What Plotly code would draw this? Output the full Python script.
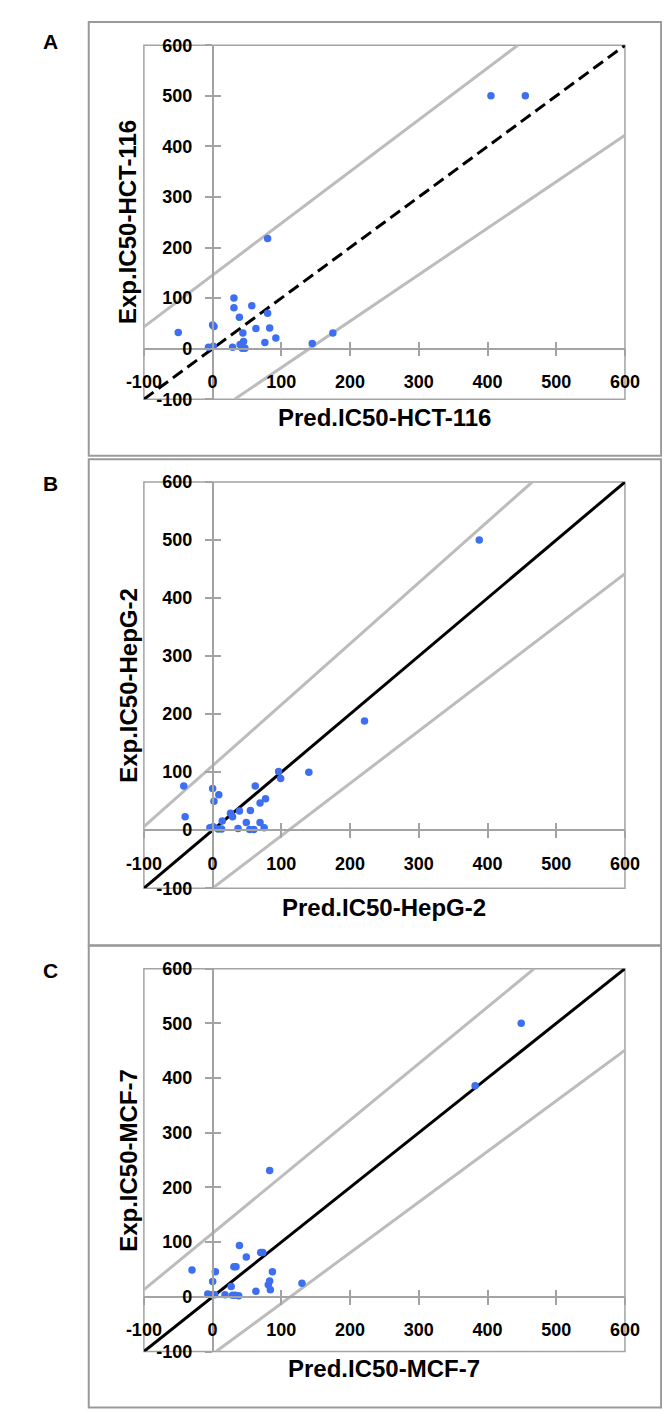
import plotly.graph_objects as go

W, H = 670, 1411

# ---------------- data ----------------
ticks = [-100, 0, 100, 200, 300, 400, 500, 600]
tick_labels = ["-100", "0", "100", "200", "300", "400", "500", "600"]
axis_range = [-100, 600]

# Panel A : HCT-116
a_pred = [-50, 0, 2, -6, 1, 31, 31, 57, 39, 80, 63, 83, 44, 92, 76, 29, 40, 45, 43, 47, 145, 175, 80, 405, 455]
a_exp = [32, 47, 44, 3, 5, 100, 81, 85, 62, 70, 40, 41, 31, 21, 12, 3, 8, 14, 1, 1, 10, 31, 218, 500, 500]
a_upper_x = [-100, 444]
a_upper_y = [43, 600]
a_lower_x = [32, 600]
a_lower_y = [-100, 422]

# Panel B : HepG-2
b_pred = [-42, -40, 0, 9, 2, -4, 1, 8, 13, 14, 26, 29, 39, 37, 49, 55, 54, 60, 62, 69, 69, 77, 75, 96, 99, 140, 221, 388]
b_exp = [76, 23, 72, 61, 50, 4, 6, 2, 2, 16, 29, 23, 33, 3, 13, 34, 1, 1, 76, 13, 47, 54, 4, 101, 89, 100, 188, 500]
b_upper_x = [-100, 465]
b_upper_y = [6, 600]
b_lower_x = [0, 600]
b_lower_y = [-100, 442]

# Panel C : MCF-7
c_pred = [-30, 4, 0, -7, -1, 3, 18, 27, 29, 33, 38, 31, 34, 39, 49, 70, 73, 63, 81, 83, 84, 87, 130, 83, 382, 449]
c_exp = [49, 46, 28, 5, 4, 4, 4, 19, 3, 3, 2, 55, 55, 94, 73, 81, 81, 10, 22, 29, 13, 46, 25, 231, 386, 500]
c_upper_x = [-100, 468]
c_upper_y = [13, 600]
c_lower_x = [5, 600]
c_lower_y = [-100, 451]

identity_x = [-100, 600]
identity_y = [-100, 600]

letters = ["A", "B", "C"]
x_titles = ["Pred.IC50-HCT-116", "Pred.IC50-HepG-2", "Pred.IC50-MCF-7"]
y_titles = ["Exp.IC50-HCT-116", "Exp.IC50-HepG-2", "Exp.IC50-MCF-7"]

# ---------------- layout geometry (pixels) ----------------
plot_left, plot_right = 124, 630
panels = [
    dict(pred=a_pred, exp=a_exp, ux=a_upper_x, uy=a_upper_y, lx=a_lower_x, ly=a_lower_y,
         dash="12px,6px", top=27.7, bottom=386.7, box=(4, 444), letter_y=24, xtitle_y=405),
    dict(pred=b_pred, exp=b_exp, ux=b_upper_x, uy=b_upper_y, lx=b_lower_x, ly=b_lower_y,
         dash="solid", top=470.7, bottom=882.7, box=(447.7, 940.5), letter_y=472, xtitle_y=902),
    dict(pred=c_pred, exp=c_exp, ux=c_upper_x, uy=c_upper_y, lx=c_lower_x, ly=c_lower_y,
         dash="solid", top=964.3, bottom=1352.7, box=(941, 1409.5), letter_y=966, xtitle_y=1370),
]

FONT = "Arial, Liberation Sans, sans-serif"
GRAY_AX = "#a3a3a3"
GRAY_LINE = "#bcbcbc"
BLUE = "#3d6ff0"
TICK_SIZE = 18
TITLE_SIZE = 24


def px_x(p):
    return p / W


def px_y(p):
    return 1 - p / H


fig = go.Figure()
layout = dict(
    width=W, height=H, margin=dict(l=0, r=0, t=0, b=0),
    paper_bgcolor="white", plot_bgcolor="rgba(0,0,0,0)",
    showlegend=False, font=dict(family=FONT, color="black"),
)
shapes = []
annotations = []

xd = [px_x(plot_left), px_x(plot_right)]
frac0 = (0 - axis_range[0]) / (axis_range[1] - axis_range[0])

for i, p in enumerate(panels):
    k = i + 1
    ko = k + 3  # overlay axes for the inner half of the cross ticks
    sx = "" if k == 1 else str(k)
    yd = [px_y(p["bottom"]), px_y(p["top"])]
    ypos0 = yd[0] + frac0 * (yd[1] - yd[0])   # paper y of value 0
    xpos0 = xd[0] + frac0 * (xd[1] - xd[0])   # paper x of value 0

    common = dict(range=axis_range, tickmode="array", tickvals=ticks, ticktext=tick_labels,
                  showgrid=False, zeroline=False, fixedrange=True)
    tickfont = dict(family=FONT, size=TICK_SIZE, color="black", weight="bold")
    layout[f"xaxis{sx}"] = dict(
        common, domain=xd, anchor="free", position=ypos0,
        showline=True, linecolor=GRAY_AX, linewidth=1.5,
        ticks="outside", ticklen=7, tickwidth=1.5, tickcolor=GRAY_AX,
        ticklabelstandoff=10, tickfont=tickfont)
    layout[f"yaxis{sx}"] = dict(
        common, domain=yd, anchor="free", position=xpos0,
        showline=True, linecolor=GRAY_AX, linewidth=1.5,
        ticks="outside", ticklen=7, tickwidth=1.5, tickcolor=GRAY_AX,
        ticklabelstandoff=9, tickfont=tickfont)
    layout[f"xaxis{ko}"] = dict(
        common, domain=xd, anchor="free", position=ypos0, overlaying=f"x{sx}",
        showline=False, showticklabels=False,
        ticks="inside", ticklen=7, tickwidth=1.5, tickcolor=GRAY_AX)
    layout[f"yaxis{ko}"] = dict(
        common, domain=yd, anchor="free", position=xpos0, overlaying=f"y{sx}",
        showline=False, showticklabels=False,
        ticks="inside", ticklen=7, tickwidth=1.5, tickcolor=GRAY_AX)

    xa, ya = f"x{sx}", f"y{sx}"
    fig.add_trace(go.Scatter(x=[], y=[], xaxis=f"x{ko}", yaxis=f"y{ko}",
                             mode="markers", hoverinfo="skip"))
    fig.add_trace(go.Scatter(x=p["ux"], y=p["uy"], mode="lines", xaxis=xa, yaxis=ya,
                             line=dict(color=GRAY_LINE, width=3)))
    fig.add_trace(go.Scatter(x=p["lx"], y=p["ly"], mode="lines", xaxis=xa, yaxis=ya,
                             line=dict(color=GRAY_LINE, width=3)))
    fig.add_trace(go.Scatter(x=identity_x, y=identity_y, mode="lines", xaxis=xa, yaxis=ya,
                             line=dict(color="black", width=3, dash=p["dash"])))
    fig.add_trace(go.Scatter(x=p["pred"], y=p["exp"], mode="markers", xaxis=xa, yaxis=ya,
                             marker=dict(color=BLUE, size=7.5, line=dict(width=0))))

    # plot-area frame
    shapes.append(dict(type="rect", xref=f"{xa} domain", yref=f"{ya} domain",
                       x0=0, x1=1, y0=0, y1=1, line=dict(color=GRAY_AX, width=1.5),
                       layer="below"))
    # panel frame
    shapes.append(dict(type="rect", xref="paper", yref="paper",
                       x0=px_x(66), x1=px_x(668), y0=px_y(p["box"][1]), y1=px_y(p["box"][0]),
                       line=dict(color="#9a9a9a", width=2)))
    # panel letter
    annotations.append(dict(text=f"<b>{letters[i]}</b>", xref="paper", yref="paper",
                            x=px_x(26), y=px_y(p["letter_y"]), xanchor="center", yanchor="middle",
                            showarrow=False, font=dict(family=FONT, size=21, color="black")))
    # axis titles
    annotations.append(dict(text=f"<b>{x_titles[i]}</b>", xref="paper", yref="paper",
                            x=(xd[0] + xd[1]) / 2, y=px_y(p["xtitle_y"]),
                            xanchor="center", yanchor="middle", showarrow=False,
                            font=dict(family=FONT, size=TITLE_SIZE, color="black")))
    annotations.append(dict(text=f"<b>{y_titles[i]}</b>", xref="paper", yref="paper",
                            x=px_x(107), y=(yd[0] + yd[1]) / 2, textangle=-90,
                            xanchor="center", yanchor="middle", showarrow=False,
                            font=dict(family=FONT, size=TITLE_SIZE, color="black")))

layout["shapes"] = shapes
layout["annotations"] = annotations
fig.update_layout(**layout)
fig.write_html("out.html")
